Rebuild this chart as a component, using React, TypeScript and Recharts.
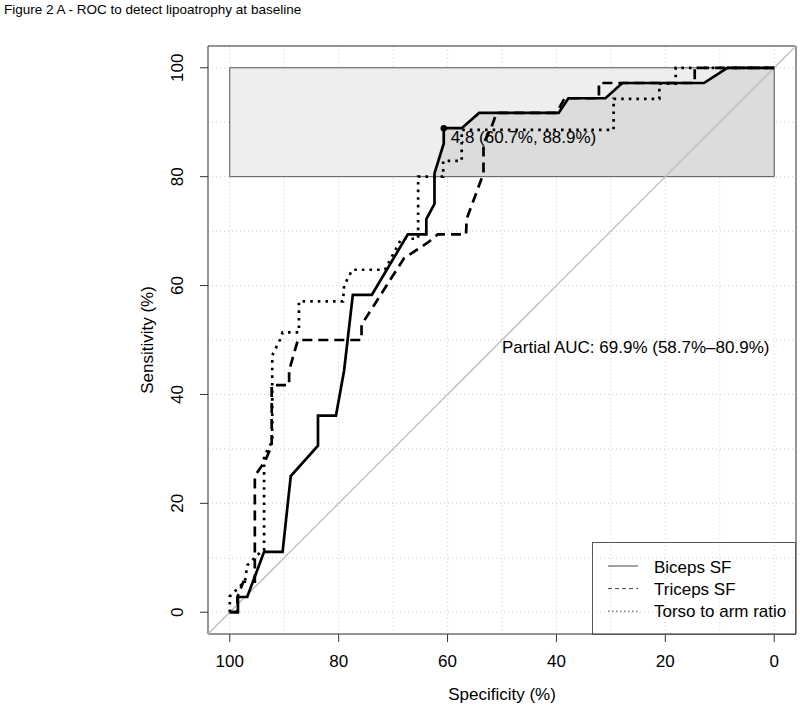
import React from 'react';
import {
  ComposedChart,
  Line,
  Area,
  XAxis,
  YAxis,
  CartesianGrid,
  ReferenceLine,
  ReferenceArea,
  ReferenceDot,
  Legend,
} from 'recharts';

const FONT = '"Liberation Sans", Arial, Helvetica, sans-serif';

// ---- text ----
const titleText = 'Figure 2 A - ROC to detect lipoatrophy at baseline';
const xTitle = 'Specificity (%)';
const yTitle = 'Sensitivity (%)';
const seriesNames = ['Biceps SF', 'Triceps SF', 'Torso to arm ratio'];
const thresholdText = '4.8 (60.7%, 88.9%)';
const pAucText = 'Partial AUC: 69.9% (58.7%\u201380.9%)';

// ---- axes ----
const axisDomain: [number, number] = [-4, 104];
const labelStep = 20;
const gridValues = [0, 10, 20, 30, 40, 50, 60, 70, 80, 90, 100];

// ---- focus region (partial AUC, sensitivity 80-100) ----
const focusSens: [number, number] = [80, 100];
const focusSpec: [number, number] = [0, 100];

// ---- threshold point & pAUC label anchor ----
const thresholdPoint = { spec: 60.7, sens: 88.9 };
const pAucAnchor = { spec: 50, sens: 50 };

// ---- ROC curves: [specificity %, sensitivity %] ----
const bicepsPoints: [number, number][] = [
  [100, 0], [98.5, 0], [98.5, 2.8], [96.8, 2.8], [93.7, 11.1], [90.3, 11.1],
  [88.8, 25.0], [83.8, 30.6], [83.8, 36.1], [80.5, 36.1], [79.0, 44.4],
  [77.4, 58.3], [73.9, 58.3], [67.3, 69.4], [63.9, 69.4], [63.9, 72.2],
  [62.4, 75.0], [62.4, 80.6], [60.7, 86.1], [60.7, 88.9], [57.4, 88.9],
  [54.2, 91.7], [39.6, 91.7], [37.8, 94.4], [31.0, 94.4], [27.9, 97.2],
  [12.9, 97.2], [8.6, 100], [0, 100],
];

const tricepsPoints: [number, number][] = [
  [100, 0], [98.6, 0], [98.6, 2.8], [97.5, 5.6], [95.4, 5.6], [95.4, 25.0],
  [93.5, 27.8], [92.3, 30.6], [92.3, 41.7], [89.1, 41.7], [89.1, 44.4],
  [87.5, 50.0], [75.8, 50.0], [75.8, 52.8], [70.5, 61.1], [68.0, 65.0],
  [63.5, 68.0], [61.8, 69.4], [56.6, 69.4], [56.5, 72.2], [53.4, 80.6],
  [53.4, 86.1], [52.0, 88.9], [51.0, 91.7], [40.0, 91.7], [38.5, 94.4],
  [32.2, 94.4], [32.2, 97.2], [14.6, 97.2], [14.6, 100], [0, 100],
];

const torsoPoints: [number, number][] = [
  [100, 0], [100, 2.9], [97.2, 5.7], [96.8, 8.6], [94.0, 11.4], [93.7, 11.4],
  [93.7, 28.6], [92.2, 31.4], [92.2, 47.2], [90.8, 50.0], [90.3, 51.4],
  [87.3, 51.4], [87.3, 57.1], [79.2, 57.1], [79.0, 60.0], [77.5, 62.9],
  [71.5, 62.9], [68.5, 68.6], [65.4, 68.6], [65.4, 80.0], [60.8, 80.0],
  [60.8, 82.9], [57.4, 82.9], [57.4, 88.6], [29.5, 88.6], [29.5, 94.3],
  [21.1, 94.3], [21.1, 97.1], [18.1, 97.1], [18.1, 100], [0, 100],
];

const seriesPoints = [bicepsPoints, tricepsPoints, torsoPoints];
const seriesDash = [undefined, '10 6', '2.6 5'];
const legendDash = [undefined, '4 3', '1.5 2.5'];

type Row = { spec: number; sens: number };
const toRows = (pts: [number, number][]): Row[] => pts.map(([spec, sens]) => ({ spec, sens }));

// area under the first curve inside the focus band (sens >= 80)
function focusArea(pts: [number, number][], lo: number): Row[] {
  const out: Row[] = [];
  for (let i = 0; i < pts.length; i++) {
    const [s, v] = pts[i];
    if (i > 0) {
      const [ps, pv] = pts[i - 1];
      if (pv < lo && v >= lo) {
        const t = (lo - pv) / (v - pv);
        out.push({ spec: ps + t * (s - ps), sens: lo });
      }
    }
    if (v >= lo) out.push({ spec: s, sens: v });
  }
  return out;
}
const aucRows = focusArea(bicepsPoints, focusSens[0]);

const TICK_LEN = 8;

const XTick = (props: any) => {
  const { x, y, payload } = props;
  if (payload.value % labelStep !== 0) return <g />;
  return (
    <g>
      <line x1={x} x2={x} y1={y - TICK_LEN} y2={y} stroke="#333" strokeWidth={1} />
      <text x={x} y={y + 25} textAnchor="middle" fontSize={17} fontFamily={FONT} fill="#000">
        {payload.value}
      </text>
    </g>
  );
};

const YTick = (props: any) => {
  const { x, y, payload } = props;
  if (payload.value % labelStep !== 0) return <g />;
  const bx = x - 17;
  return (
    <g>
      <line x1={x} x2={x + TICK_LEN} y1={y} y2={y} stroke="#333" strokeWidth={1} />
      <text
        x={bx}
        y={y}
        transform={`rotate(-90, ${bx}, ${y})`}
        textAnchor="middle"
        fontSize={17}
        fontFamily={FONT}
        fill="#000"
      >
        {payload.value}
      </text>
    </g>
  );
};

const XTitle = (props: any) => {
  const vb = props.viewBox;
  return (
    <text x={vb.x + vb.width / 2} y={vb.y + 66} textAnchor="middle" fontSize={17} fontFamily={FONT} fill="#000">
      {xTitle}
    </text>
  );
};

const YTitle = (props: any) => {
  const vb = props.viewBox;
  const bx = vb.x + 5;
  const cy = vb.y + vb.height / 2;
  return (
    <text x={bx} y={cy} transform={`rotate(-90, ${bx}, ${cy})`} textAnchor="middle" fontSize={17} fontFamily={FONT} fill="#000">
      {yTitle}
    </text>
  );
};

const ThresholdLabel = (props: any) => {
  const vb = props.viewBox;
  const cx = vb.x + vb.width / 2;
  const cy = vb.y + vb.height / 2;
  return (
    <text x={cx + 7} y={cy + 15} fontSize={17} fontFamily={FONT} fill="#000">
      {thresholdText}
    </text>
  );
};

const PAucLabel = (props: any) => {
  const vb = props.viewBox;
  const cx = vb.x + vb.width / 2;
  const cy = vb.y + vb.height / 2;
  return (
    <text x={cx} y={cy + 13} fontSize={17} fontFamily={FONT} fill="#000">
      {pAucText}
    </text>
  );
};

const LegendBox = () => (
  <svg width={204} height={93} style={{ display: 'block', overflow: 'visible' }}>
    <rect x={0.5} y={0.5} width={203} height={92} fill="none" stroke="#555" strokeWidth={1} />
    {seriesNames.map((n, i) => (
      <g key={n}>
        <line
          x1={16}
          x2={46}
          y1={24 + i * 22.6}
          y2={24 + i * 22.6}
          stroke="#444"
          strokeWidth={1}
          strokeDasharray={legendDash[i]}
        />
        <text x={62} y={30.6 + i * 22.4} fontSize={17} fontFamily={FONT} fill="#000">
          {n}
        </text>
      </g>
    ))}
  </svg>
);

const focusEdges = [
  [{ x: focusSpec[0], y: focusSens[0] }, { x: focusSpec[1], y: focusSens[0] }],
  [{ x: focusSpec[0], y: focusSens[1] }, { x: focusSpec[1], y: focusSens[1] }],
  [{ x: focusSpec[0], y: focusSens[0] }, { x: focusSpec[0], y: focusSens[1] }],
  [{ x: focusSpec[1], y: focusSens[0] }, { x: focusSpec[1], y: focusSens[1] }],
];

export default function App() {
  return (
    <div style={{ position: 'absolute', left: 0, top: 0, width: 800, height: 709, background: '#fff' }}>
      <div
        style={{
          position: 'absolute',
          left: 4,
          top: 2,
          fontSize: 13.5,
          fontFamily: FONT,
          color: '#000',
          whiteSpace: 'nowrap',
          lineHeight: '16px',
        }}
      >
        {titleText}
      </div>
      <ComposedChart width={800} height={709} margin={{ top: 46, right: 4, bottom: 0, left: 148 }}>
        <CartesianGrid stroke="#cfcfcf" strokeWidth={1} strokeDasharray="1 3" />
        <XAxis
          type="number"
          dataKey="spec"
          domain={axisDomain}
          reversed
          ticks={gridValues}
          interval={0}
          allowDataOverflow
          axisLine={false}
          tickSize={TICK_LEN}
          tickMargin={0}
          tickLine={false}
          tick={<XTick />}
          height={75}
          label={<XTitle />}
        />
        <YAxis
          type="number"
          dataKey="sens"
          domain={axisDomain}
          ticks={gridValues}
          interval={0}
          allowDataOverflow
          axisLine={false}
          tickSize={TICK_LEN}
          tickMargin={0}
          tickLine={false}
          tick={<YTick />}
          width={60}
          label={<YTitle />}
        />
        <ReferenceArea
          x1={focusSpec[0]}
          x2={focusSpec[1]}
          y1={focusSens[0]}
          y2={focusSens[1]}
          fill="#eeeeef"
          fillOpacity={1}
          stroke="none"
        />
        <Area
          data={aucRows}
          dataKey="sens"
          type="linear"
          baseValue={focusSens[0]}
          stroke="none"
          fill="#dcdcdc"
          fillOpacity={1}
          isAnimationActive={false}
          legendType="none"
        />
        {focusEdges.map((seg, i) => (
          <ReferenceLine key={'fe' + i} segment={seg} stroke="#555" strokeWidth={1} />
        ))}
        <ReferenceLine
          segment={[
            { x: axisDomain[1], y: axisDomain[0] },
            { x: axisDomain[0], y: axisDomain[1] },
          ]}
          stroke="#bdbdbd"
          strokeWidth={1.3}
        />
        {seriesPoints.map((pts, i) => (
          <Line
            key={seriesNames[i]}
            name={seriesNames[i]}
            data={toRows(pts)}
            dataKey="sens"
            type="linear"
            stroke="#000"
            strokeWidth={2.7}
            strokeDasharray={seriesDash[i]}
            dot={false}
            activeDot={false}
            isAnimationActive={false}
          />
        ))}
        <ReferenceDot
          x={thresholdPoint.spec}
          y={thresholdPoint.sens}
          r={3.2}
          fill="#000"
          stroke="none"
          label={<ThresholdLabel />}
        />
        <ReferenceDot x={pAucAnchor.spec} y={pAucAnchor.sens} r={0} fill="none" stroke="none" label={<PAucLabel />} />
        <ReferenceArea
          x1={axisDomain[0]}
          x2={axisDomain[1]}
          y1={axisDomain[0]}
          y2={axisDomain[1]}
          fill="none"
          stroke="#333"
          strokeWidth={1}
        />
        <Legend
          layout="vertical"
          align="center"
          verticalAlign="middle"
          wrapperStyle={{ left: 592, top: 542, width: 204, height: 93 }}
          content={<LegendBox />}
        />
      </ComposedChart>
    </div>
  );
}
